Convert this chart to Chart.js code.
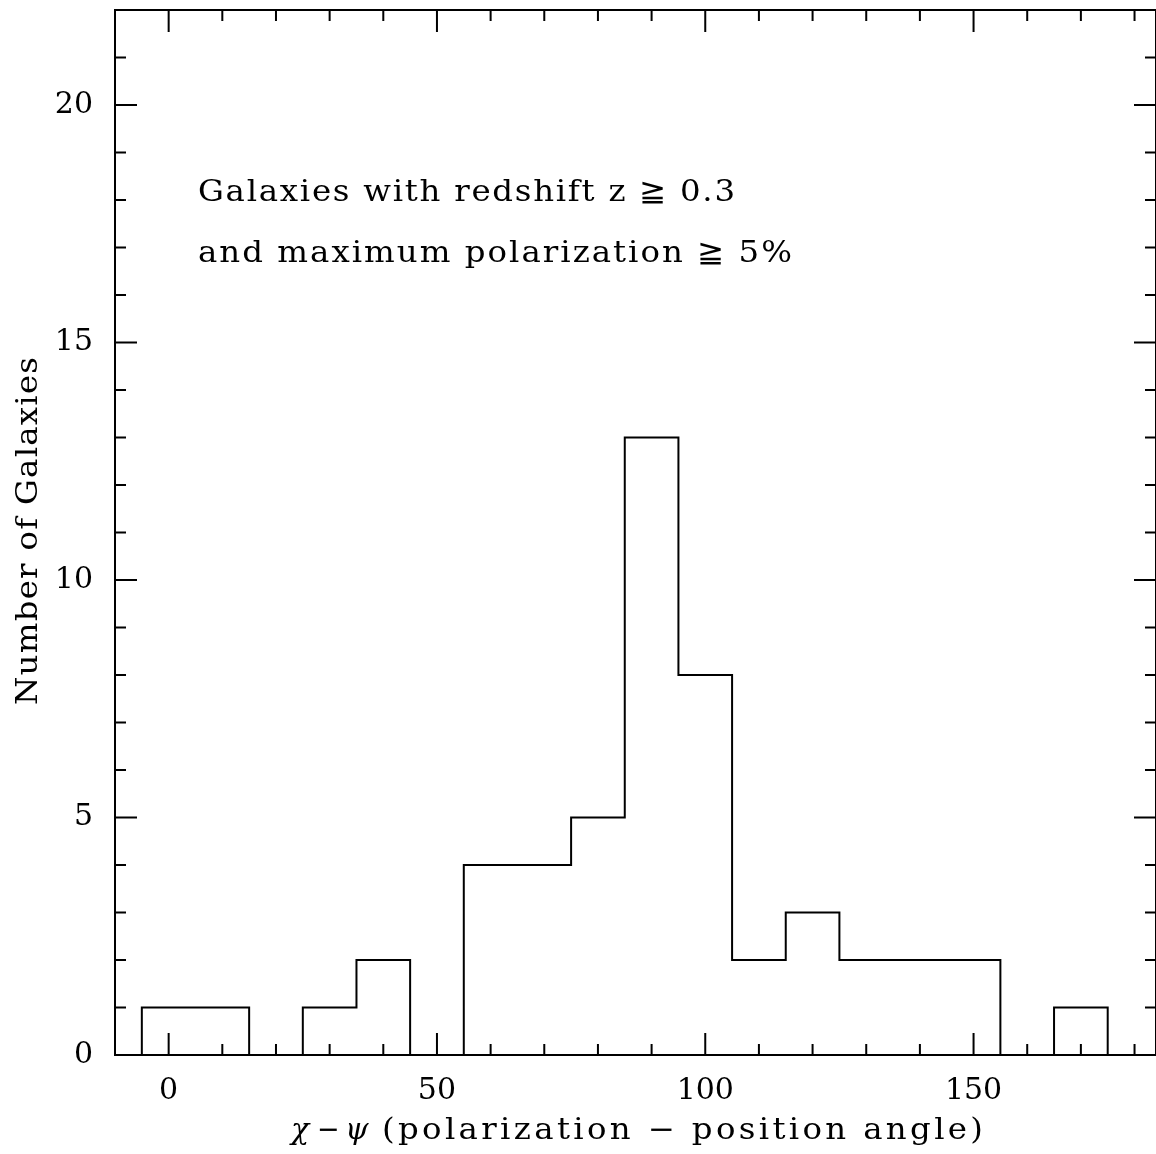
<!DOCTYPE html>
<html>
<head>
<meta charset="utf-8">
<script src="https://cdn.jsdelivr.net/npm/chart.js@4.4.1/dist/chart.umd.min.js"></script>
<style>
  html, body { margin: 0; padding: 0; background: #fff; }
  canvas { display: block; }
</style>
</head>
<body>
<canvas id="hist" width="1156" height="1154"></canvas>
<script>
// 10 degree bins, value = bin centre
const binCenters = [0, 10, 20, 30, 40, 50, 60, 70, 80, 90, 100, 110, 120, 130, 140, 150, 160, 170];
const galaxyCounts = [1, 1, 0, 1, 2, 0, 4, 4, 5, 13, 8, 2, 3, 2, 2, 2, 0, 1];
const binWidth = 10;

const xTickLabels = [0, 50, 100, 150];
const yTickLabels = [0, 5, 10, 15, 20];
const noteLines = ["Galaxies with redshift z \u2267 0.3", "and maximum polarization \u2267 5%"];
const yTitle = "Number of Galaxies";

const serif = "DejaVu Serif";

// outline of the histogram as a stepped line
const outline = [{ x: binCenters[0] - binWidth / 2, y: 0 }];
binCenters.forEach((c, i) => outline.push({ x: c - binWidth / 2, y: galaxyCounts[i] }));
const last = binCenters.length - 1;
outline.push({ x: binCenters[last] + binWidth / 2, y: galaxyCounts[last] });
outline.push({ x: binCenters[last] + binWidth / 2, y: 0 });

// text spread out to a given width: a little horizontal stretch, rest as letter spacing
function spacedText(ctx, text, x, y, width) {
  ctx.save();
  ctx.letterSpacing = "0px";
  const w = ctx.measureText(text).width;
  const sx = Math.min(1.08, width / w);
  const ls = text.length > 1 ? (width / sx - w) / (text.length - 1) : 0;
  ctx.translate(x, y);
  ctx.scale(sx, 1);
  ctx.letterSpacing = ls + "px";
  ctx.fillText(text, 0, 0);
  ctx.restore();
}

function narrowMinus(ctx, x, y) {
  ctx.save();
  ctx.translate(x, y);
  ctx.scale(0.9, 1);
  ctx.fillText("\u2212", 0, 0);
  ctx.restore();
}

const framePlugin = {
  id: "frame",
  afterDraw(chart) {
    const { ctx, chartArea: a, scales } = chart;
    const xs = scales.x, ys = scales.y;
    ctx.save();
    ctx.strokeStyle = "#000";
    ctx.lineWidth = 2;
    ctx.strokeRect(a.left, a.top, a.right - a.left, a.bottom - a.top);

    // inward ticks on all four sides
    ctx.beginPath();
    for (let v = -10; v <= xs.max; v += 10) {
      const px = xs.getPixelForValue(v);
      const len = xTickLabels.includes(v) ? 22 : 11;
      ctx.moveTo(px, a.bottom); ctx.lineTo(px, a.bottom - len);
      ctx.moveTo(px, a.top); ctx.lineTo(px, a.top + len);
    }
    for (let v = 0; v <= ys.max; v += 1) {
      const py = ys.getPixelForValue(v);
      const len = yTickLabels.includes(v) ? 22 : 11;
      ctx.moveTo(a.left, py); ctx.lineTo(a.left + len, py);
      ctx.moveTo(a.right, py); ctx.lineTo(a.right - len, py);
    }
    ctx.stroke();

    ctx.fillStyle = "#000";
    ctx.textBaseline = "alphabetic";
    ctx.textAlign = "left";
    ctx.font = "30px '" + serif + "'";
    spacedText(ctx, noteLines[0], 198, 201, 537);
    spacedText(ctx, noteLines[1], 198, 262, 594);

    // x title: chi - psi (polarization - position angle)
    ctx.font = "italic 30px '" + serif + "'";
    ctx.fillText("\u03C7", 291, 1139);
    ctx.fillText("\u03C8", 345, 1139);
    ctx.font = "30px '" + serif + "'";
    narrowMinus(ctx, 317, 1139);
    spacedText(ctx, "(polarization \u2212 position angle)", 382, 1139, 601);

    // y title
    ctx.translate(37, 705);
    ctx.rotate(-Math.PI / 2);
    spacedText(ctx, yTitle, 0, 0, 348);
    ctx.restore();
  }
};

new Chart(document.getElementById("hist"), {
  type: "line",
  data: {
    datasets: [{
      data: outline,
      stepped: "before",
      borderColor: "#000",
      borderWidth: 2,
      pointRadius: 0,
      fill: false,
      tension: 0
    }]
  },
  options: {
    responsive: false,
    animation: false,
    layout: { padding: { left: 0, top: 10, right: 0, bottom: 0 } },
    plugins: { legend: { display: false }, tooltip: { enabled: false } },
    scales: {
      x: {
        type: "linear",
        min: -10,
        max: 184,
        grid: { display: false, drawTicks: false },
        border: { display: false },
        afterBuildTicks: (s) => { s.ticks = xTickLabels.map(v => ({ value: v })); },
        afterFit: (s) => { s.height = 99; s.paddingLeft = 0; s.paddingRight = 0; },
        ticks: { color: "#000", padding: 18, font: { family: serif, size: 30 } }
      },
      y: {
        type: "linear",
        min: 0,
        max: 22,
        grid: { display: false, drawTicks: false },
        border: { display: false },
        afterBuildTicks: (s) => { s.ticks = yTickLabels.map(v => ({ value: v })); },
        afterFit: (s) => { s.width = 115; s.paddingTop = 0; s.paddingBottom = 0; },
        ticks: { color: "#000", padding: 22, font: { family: serif, size: 30 } }
      }
    }
  },
  plugins: [framePlugin]
});
</script>
</body>
</html>
